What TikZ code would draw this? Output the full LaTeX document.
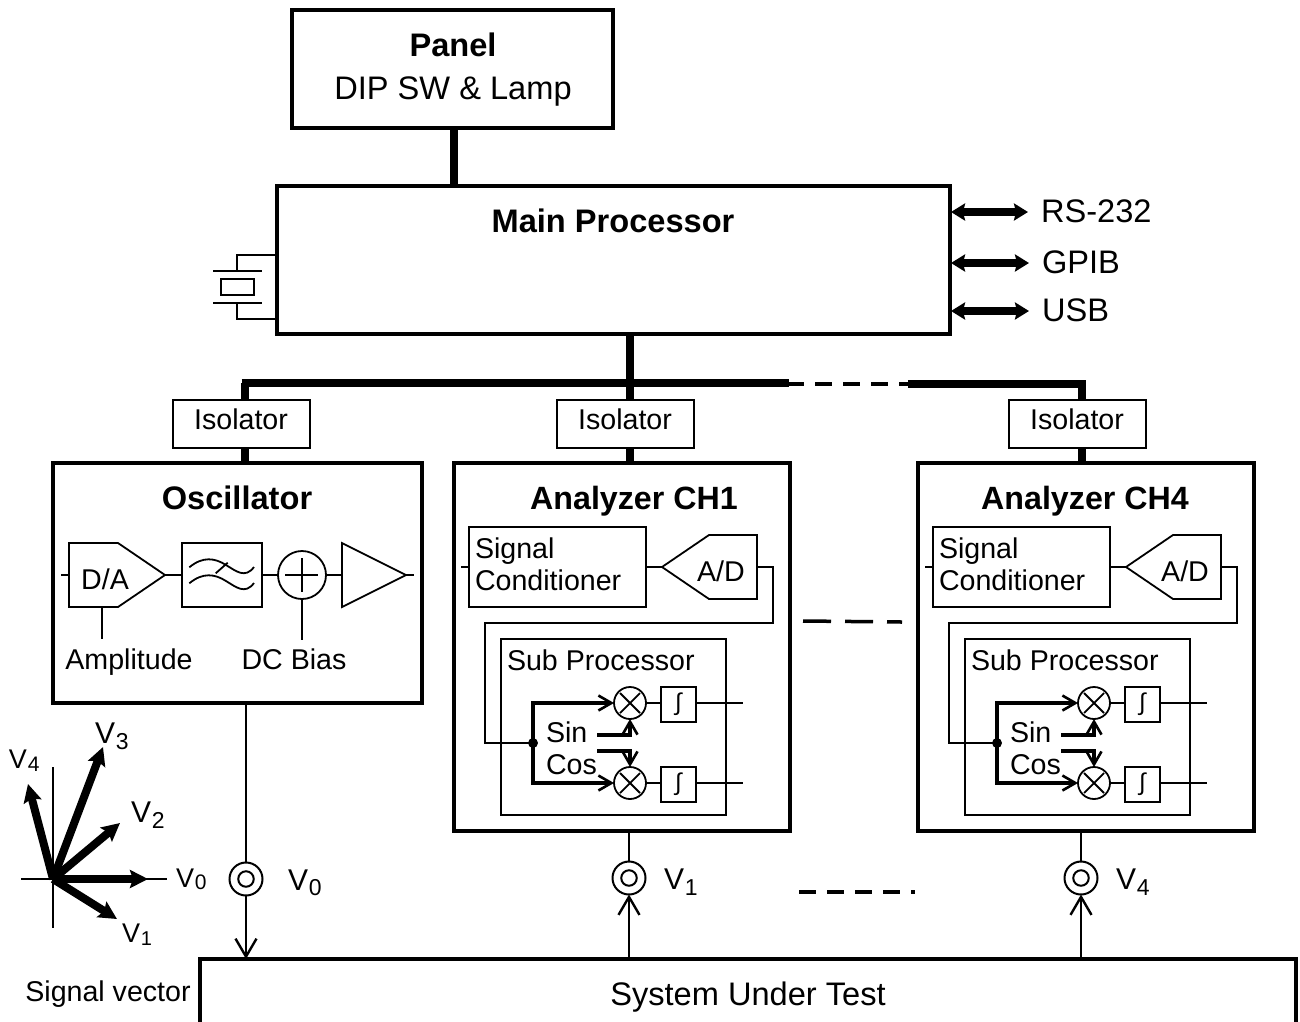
\documentclass[tikz,border=0pt]{standalone}
\usepackage{fontspec}
\setmainfont{Liberation Sans}
\usetikzlibrary{arrows.meta,calc}
\newcommand{\szL}{\fontsize{32.6}{36}\selectfont}
\newcommand{\szM}{\fontsize{28.6}{32}\selectfont}
\newcommand{\Vsub}[4]{\fontsize{#1}{#1}\selectfont V\kern 0.03em\raisebox{-#4pt}{\fontsize{#2}{#2}\selectfont #3}}
\tikzset{
  box/.style={draw,rectangle,outer sep=0pt,inner sep=0pt,anchor=north west},
  heavy/.style={box,line width=4pt},
  lightbox/.style={box,line width=2pt},
  thin line/.style={line width=1.8pt},
  bus/.style={line width=7.5pt},
  dbl/.style={line width=8pt,{Stealth[length=14pt,width=17pt,inset=2pt]}-{Stealth[length=14pt,width=17pt,inset=2pt]}},
  barbL/.style={line width=2.4pt,-{Straight Barb[length=18pt,width=21pt,line width=2.4pt]}},
  barbS/.style={line width=3.2pt,-{Straight Barb[length=13pt,width=15pt,line width=2.6pt]}},
  vec/.style={line width=8pt,-{Stealth[length=18pt,width=18pt,inset=3pt]}},
  lbl/.style={inner sep=0pt,outer sep=0pt,anchor=base},
  big/.style={lbl,font=\szL},
  bigb/.style={lbl,font=\szL\bfseries},
  mid/.style={lbl,font=\szM},
  midl/.style={lbl,font=\szM,anchor=base west},
  vlbl/.style={inner sep=0pt,outer sep=0pt,anchor=base west},
  circ/.style={draw,circle,line width=1.8pt,inner sep=0pt,outer sep=0pt,anchor=center},
}
\begin{document}
\begin{tikzpicture}[x=1pt,y=-1pt,line join=miter]
\useasboundingbox (0,0) rectangle (1300,1021);
\clip (0,0) rectangle (1300,1021);
\fill[white] (0,0) rectangle (1300,1021);

% Panel and main processor
\node[heavy,minimum width=321pt,minimum height=118pt] (panel) at (292,10) {};
\node[bigb] (panelT) at (453,56) {Panel};
\node[big] (panelS) at (453,99) {DIP SW \& Lamp};
\node[heavy,minimum width=673pt,minimum height=148pt] (main) at (277,186) {};
\node[bigb] (mainT) at (613,232) {Main Processor};
\coordinate (pmtop) at (454,128);
\draw[bus] (pmtop) -- (pmtop |- main.north);

% Crystal
\coordinate (xA) at (277,255);
\coordinate (xB) at (277,319);
\coordinate (xC) at (237,271);
\coordinate (xD) at (237,303);
\draw[line width=1.8pt] (xA) -| (xC) (xB) -| (xD);
\draw[line width=1.8pt] (213,271) -- (262,271) (213,303) -- (262,303);
\node[box,line width=2pt,minimum width=33pt,minimum height=16pt] (xtal) at (221,279) {};

% IO
\node[big,anchor=base west] (rs) at (1041,222) {RS-232};
\node[big,anchor=base west] (gpib) at (1042,273) {GPIB};
\node[big,anchor=base west] (usb) at (1042,321) {USB};
\coordinate (io1) at (951,212);
\coordinate (io2) at (951,263);
\coordinate (io3) at (951,311);
\draw[dbl] (io1) -- (1028,212);
\draw[dbl] (io2) -- (1029,263);
\draw[dbl] (io3) -- (1029,311);

% Bus
\coordinate (busL) at (245,383);
\coordinate (busM) at (630,383);
\coordinate (busR) at (1082,384);
\draw[bus] (main.south -| busM) -- (busM);
\draw[bus] (241.5,383) -- (789,383);
\draw[bus] (908,384) -- (1085.5,384);
\draw[line width=4pt,dash pattern=on 17pt off 11pt,dash phase=2pt] (789,383.5) -- (908,383.5);

% Isolators
\node[lightbox,minimum width=137pt,minimum height=48pt] (iso1) at (173,399.5) {};
\node[mid] (iso1T) at (241,429.5) {Isolator};
\node[lightbox,minimum width=137pt,minimum height=48pt] (iso2) at (557,399.5) {};
\node[mid] (iso2T) at (625,429.5) {Isolator};
\node[lightbox,minimum width=137pt,minimum height=48pt] (iso3) at (1009,399.5) {};
\node[mid] (iso3T) at (1077,429.5) {Isolator};

% Main boxes
\node[heavy,minimum width=369pt,minimum height=240pt] (osc) at (53,463) {};
\node[heavy,minimum width=336pt,minimum height=368pt] (ch1) at (454,463) {};
\node[heavy,minimum width=336pt,minimum height=368pt] (ch4) at (918,463) {};
\draw[bus] (busL) -- (iso1.north -| busL);
\draw[bus] (busM) -- (iso2.north -| busM);
\draw[bus] (busR) -- (iso3.north -| busR);
\draw[bus] (iso1.south -| busL) -- (osc.north -| busL);
\draw[bus] (iso2.south -| busM) -- (ch1.north -| busM);
\draw[bus] (iso3.south -| busR) -- (ch4.north -| busR);

% Oscillator contents
\node[bigb] (oscT) at (237,509) {Oscillator};
\coordinate (daA) at (165,575);
\draw[thin line] (69,543) -- (118,543) -- (165,575) -- (118,607) -- (69,607) -- cycle;
\draw[thin line] (61,575) -- (69,575);
\node[mid] (daT) at (105,589) {D/A};
\draw[thin line] (102,607) -- (102,639);
\node[lightbox,minimum width=80pt,minimum height=64pt] (filt) at (182,543) {};
\draw[thin line] (daA) -- (filt.west);
\draw[thin line] (189.3,567.3) .. controls (203,556) and (215,558) .. (226,565) .. controls (236,571) and (245,579) .. (254,567);
\draw[thin line] (189.3,583.3) .. controls (203,572) and (215,574) .. (226,581) .. controls (236,587) and (245,595) .. (254,583);
\draw[thin line] (215.7,573.3) -- (227.7,562.7);
\node[circ,minimum size=48pt] (sum) at (302,575) {};
\draw[thin line] (285,575) -- (318,575) (302,558) -- (302,592);
\draw[thin line] (filt.east) -- (sum.west);
\coordinate (dcEnd) at (302,640);
\draw[thin line] (sum.south) -- (dcEnd);
\coordinate (ampE) at (342,575);
\draw[thin line] (sum.east) -- (ampE);
\draw[thin line] (342,543) -- (406,575) -- (342,607) -- cycle;
\draw[thin line] (406,575) -- (414,575);
\node[mid] (ampT) at (129,669) {Amplitude};
\node[mid] (dcT) at (294,669) {DC Bias};

% Analyzer contents
\foreach \pfx/\dx in {a/0,b/464}{
\begin{scope}[shift={(\dx,0)},name prefix=\pfx-]
  \node[lightbox,minimum width=177pt,minimum height=80pt] (sc) at (469,527) {};
  \node[midl] (sc1) at (475,558) {Signal};
  \node[midl] (sc2) at (475,590) {Conditioner};
  \draw[thin line] (461,567) -- (469,567);
  \coordinate (adT) at (662,567);
  \draw[thin line] (662,567) -- (709,535) -- (757,535) -- (757,599) -- (709,599) -- cycle;
  \node[mid] (adL) at (721,581) {A/D};
  \draw[thin line] (sc.east |- adT) -- (adT);
  \node[lightbox,minimum width=225pt,minimum height=176pt] (sp) at (501,639) {};
  \node[midl] (spT) at (507,670) {Sub Processor};
  \node[circ,fill=black,minimum size=8pt] (dot) at (533,743) {};
  \draw[thin line] (757,567) -- (773,567) -- (773,623) -- (485,623) -- (485,743) -- (dot);
  \node[circ,minimum size=32pt] (m1) at (630,703) {};
  \node[circ,minimum size=32pt] (m2) at (630,783) {};
  \draw[thin line] ($(m1)+(-10,-10)$) -- ($(m1)+(10,10)$) ($(m1)+(10,-10)$) -- ($(m1)+(-10,10)$);
  \draw[thin line] ($(m2)+(-10,-10)$) -- ($(m2)+(10,10)$) ($(m2)+(10,-10)$) -- ($(m2)+(-10,10)$);
  \draw[barbS] (dot.center) |- (m1.west);
  \draw[barbS] (dot.center) |- (m2.west);
  \node[lightbox,minimum width=35pt,minimum height=35pt] (i1) at (661,687) {};
  \node[lightbox,minimum width=35pt,minimum height=35pt] (i2) at (661,767) {};
  \node[inner sep=0pt,font=\fontsize{24}{24}\selectfont] (i1T) at (i1.center) {∫};
  \node[inner sep=0pt,font=\fontsize{24}{24}\selectfont] (i2T) at (i2.center) {∫};
  \draw[thin line] (m1.east) -- (m1.east -| i1.west);
  \draw[thin line] (m2.east) -- (m2.east -| i2.west);
  \draw[thin line] (i1.east |- m1) -- (743,703);
  \draw[thin line] (i2.east |- m2) -- (743,783);
  \node[midl] (sinT) at (546,742) {Sin};
  \node[midl] (cosT) at (546,774) {Cos};
  \draw[barbS] (597,735) -| (m1.south);
  \draw[barbS] (597,751) -| (m2.north);
\end{scope}}
\node[lbl,font=\fontsize{32.2}{36}\selectfont\bfseries] (ch1T) at (634,509) {Analyzer CH1};
\node[lbl,font=\fontsize{32.2}{36}\selectfont\bfseries] (ch4T) at (1085,509) {Analyzer CH4};

% Connectors
\node[circ,line width=2pt,minimum size=33pt] (c0) at (246,879) {};
\node[circ,line width=2pt,minimum size=15.5pt] (c0i) at (246,879) {};
\node[circ,line width=2pt,minimum size=33pt] (c1) at (629,878) {};
\node[circ,line width=2pt,minimum size=15.5pt] (c1i) at (629,878) {};
\node[circ,line width=2pt,minimum size=33pt] (c4) at (1081,878) {};
\node[circ,line width=2pt,minimum size=15.5pt] (c4i) at (1081,878) {};
\node[vlbl] (v0b) at (288,890) {\Vsub{30}{23}{0}{5}};
\node[vlbl] (v1b) at (664,889) {\Vsub{30}{23}{1}{6}};
\node[vlbl] (v4b) at (1116,889) {\Vsub{30}{23}{4}{6}};
\draw[thin line] (osc.south -| c0) -- (c0.north);
\draw[thin line] (ch1.south -| c1) -- (c1.north);
\draw[thin line] (ch4.south -| c4) -- (c4.north);

% System under test
\node[heavy,minimum width=1096pt,minimum height=100pt] (sut) at (200,959) {};
\node[big] (sutT) at (748,1005) {System Under Test};
\node[mid] (sigT) at (108,1001) {Signal vector};
\draw[barbL] (c0.south) -- (c0 |- sut.north);
\draw[barbL] (c1 |- sut.north) -- (c1.south);
\draw[barbL] (c4 |- sut.north) -- (c4.south);

% Dashes
\draw[line width=3.5pt,dash pattern=on 28pt off 14pt] (803,621) -- (902,622);
\draw[line width=3.5pt,dash pattern=on 17pt off 11pt] (799,892) -- (915,892);

% Vector diagram
\coordinate (org) at (53,879);
\draw[thin line] (21,879) -- (167,879);
\draw[thin line] (53,767) -- (53,928);
\draw[vec] (org) -- (148,879);
\draw[vec] (org) -- (117,919);
\draw[vec] (org) -- (120,823);
\draw[vec] (org) -- (103,747);
\draw[vec] (org) -- (28,784);
\node[vlbl] (v0s) at (176,887) {\Vsub{27}{21}{0}{2}};
\node[vlbl] (v1s) at (122,942) {\Vsub{27}{20}{1}{3}};
\node[vlbl] (v2s) at (131,822) {\Vsub{30}{23}{2}{6}};
\node[vlbl] (v3s) at (95,743) {\Vsub{30}{23}{3}{6}};
\node[vlbl] (v4s) at (9,768) {\Vsub{27}{21}{4}{3}};
\end{tikzpicture}
\end{document}
